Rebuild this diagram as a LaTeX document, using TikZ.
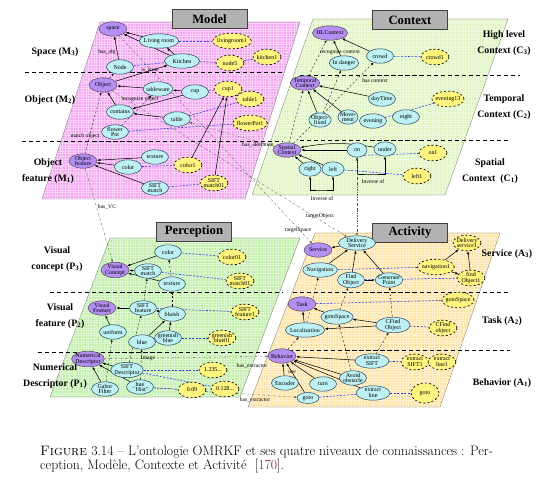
\documentclass[tikz,border=0pt]{standalone}
\usepackage{fontspec}
\newfontfamily\tms{Liberation Serif}
\usetikzlibrary{positioning, shapes.geometric, arrows.meta, calc, backgrounds}

\definecolor{modelpink}{HTML}{F5A3F0}
\definecolor{ctxgreen}{HTML}{DDF5BC}
\definecolor{pergreen}{HTML}{BDEFA6}
\definecolor{actorange}{HTML}{FFE1A0}
\definecolor{clspurple}{HTML}{B48EF2}
\definecolor{concyan}{HTML}{BDF1F4}
\definecolor{conline}{HTML}{23415E}
\definecolor{insyellow}{HTML}{FFF47E}
\definecolor{instblue}{HTML}{2B3BE8}
\definecolor{refred}{HTML}{8B1A1A}

\tikzset{
	tinytext/.style={font=\tms\fontsize{8.5}{8}\selectfont},
	clsnode/.style={ellipse, draw=black!75, line width=0.6pt, fill=clspurple, tinytext, align=center, inner xsep=-1.5pt, inner ysep=0pt, minimum width=1.4cm, minimum height=0.72cm},
	connode/.style={ellipse, draw=conline, line width=0.7pt, fill=concyan, tinytext, align=center, inner xsep=-1.5pt, inner ysep=0pt, minimum width=1.35cm, minimum height=0.72cm},
	insnode/.style={ellipse, draw=black, line width=0.9pt, dashed, fill=insyellow, tinytext, align=center, inner xsep=-1.5pt, inner ysep=0pt, minimum width=1.4cm, minimum height=0.78cm}
}
\tikzset{
	arr/.style={-{Latex[length=4.5pt,width=3.5pt]}, line width=0.75pt},
	inst/.style={instblue, densely dashed, line width=0.8pt},
	dep/.style={-{Latex[length=3.5pt,width=3pt]}, dashed, line width=0.5pt},
	xlink/.style={black!65, dash dot, line width=0.5pt, -{Latex[length=3.5pt,width=3pt]}},
	lvl/.style={dash pattern=on 6pt off 4pt, line width=1.2pt},
	edgetext/.style={font=\tms\fontsize{8}{8}\selectfont, inner sep=0.5pt},
	sidetext/.style={font=\tms\bfseries\fontsize{14}{23}\selectfont, align=center},
	titlebox/.style={draw=black!75, line width=0.8pt, fill=black!30, font=\tms\bfseries\fontsize{18}{18}\selectfont, minimum width=3.75cm, minimum height=0.95cm, inner sep=0pt}
}

\begin{document}
\begin{tikzpicture}[x=0.05cm, y=-0.05cm]
	\useasboundingbox (0,0) rectangle (559,502);

	% the four panels
	\begin{scope}[on background layer]
		\fill[modelpink] (100,22) -- (300,22) -- (245,199) -- (42,199) -- cycle;
		\fill[ctxgreen] (313,19) -- (508,19) -- (445,195) -- (252,195) -- cycle;
		\fill[pergreen] (110,238) -- (300,238) -- (240,397) -- (50,397) -- cycle;
		\fill[actorange] (315,233) -- (500,233) -- (440,407) -- (248,407) -- cycle;
		\begin{scope}
			\clip (100,22) -- (300,22) -- (245,199) -- (42,199) -- cycle;
			\draw[white, line width=0.2pt, opacity=0.5, step=0.13cm] (40,20) grid (305,200);
		\end{scope}
		\begin{scope}
			\clip (313,19) -- (508,19) -- (445,195) -- (252,195) -- cycle;
			\draw[white, line width=0.2pt, opacity=0.5, step=0.13cm] (250,17) grid (510,197);
		\end{scope}
		\begin{scope}
			\clip (110,238) -- (300,238) -- (240,397) -- (50,397) -- cycle;
			\draw[white, line width=0.2pt, opacity=0.5, step=0.13cm] (48,236) grid (302,399);
		\end{scope}
		\begin{scope}
			\clip (315,233) -- (500,233) -- (440,407) -- (248,407) -- cycle;
			\draw[white, line width=0.2pt, opacity=0.5, step=0.13cm] (246,231) grid (502,409);
		\end{scope}
		\draw[black!55, line width=0.4pt] (100,22) -- (300,22) -- (245,199) -- (42,199) -- cycle;
		\draw[black!55, line width=0.4pt] (313,19) -- (508,19) -- (445,195) -- (252,195) -- cycle;
		\draw[black!55, line width=0.4pt] (110,238) -- (300,238) -- (240,397) -- (50,397) -- cycle;
		\draw[black!55, line width=0.4pt] (315,233) -- (500,233) -- (440,407) -- (248,407) -- cycle;

		\draw[lvl] (25,72) -- (283,72);
		\draw[lvl] (22,141) -- (283,141);
		\draw[lvl] (300,75) -- (520,75);
		\draw[lvl] (300,140) -- (508,140);
		\draw[lvl] (50,292) -- (282,292);
		\draw[lvl] (293,292) -- (510,292);
		\draw[lvl] (38,352) -- (275,352);
		\draw[lvl] (275,350) -- (510,350);
	\end{scope}

	\node[titlebox] (tModel) at (209.5,19) {Model};
	\node[titlebox] (tContext) at (410,20) {Context};
	\node[titlebox] (tPerception) at (194,231.5) {Perception};
	\node[titlebox] (tActivity) at (410,232.5) {Activity};

	% level names
	\node[sidetext] (sM3) at (55,52) {Space (M\textsubscript{3})};
	\node[sidetext] (sM2) at (50,100) {Object (M\textsubscript{2})};
	\node[sidetext] (sM1) at (48,171) {Object\\feature (M\textsubscript{1})};
	\node[sidetext] (sC3) at (504,43) {High level\\Context (C\textsubscript{3})};
	\node[sidetext] (sC2) at (504,107) {Temporal\\Context (C\textsubscript{2})};
	\node[sidetext] (sC1) at (490,171) {Spatial\\Context\ \ (C\textsubscript{1})};
	\node[sidetext] (sP3) at (57,259) {Visual\\concept (P\textsubscript{3})};
	\node[sidetext] (sP2) at (60,316) {Visual\\feature (P\textsubscript{2})};
	\node[sidetext] (sP1) at (55,376) {Numerical\\Descriptor (P\textsubscript{1})};
	\node[sidetext] (sA3) at (507,254) {Service (A\textsubscript{3})};
	\node[sidetext] (sA2) at (502,321) {Task (A\textsubscript{2})};
	\node[sidetext] (sA1) at (502,383) {Behavior (A\textsubscript{1})};

	% Model
	\begin{scope}
		\node[clsnode] (space) at (113,29) {space};
		\node[connode, minimum width=1.8cm] (livroom) at (159,41) {Living room};
		\node[insnode, minimum width=1.7cm] (livroom1) at (232,41) {livingroom1};
		\node[connode] (nodeC) at (120,67) {Node};
		\node[connode, minimum width=1.75cm] (kitchen) at (182,61) {Kitchen};
		\node[insnode] (node5) at (230,63) {node5};
		\node[insnode] (kitchen1) at (267,57) {kitchen1};
		\node[clsnode] (object) at (103,85) {Object};
		\node[connode] (tableware) at (158,89) {tableware};
		\node[connode] (cup) at (195,92) {cup};
		\node[insnode] (cup1) at (228,89) {cup1};
		\node[insnode] (table1) at (250,99) {table1};
		\node[connode] (contains) at (120,112) {contains};
		\node[connode] (table) at (177,119) {table};
		\node[insnode] (flowerpot1) at (250,123) {flowerPot1};
		\node[connode] (flowerpot) at (115,132) {flower\\Pot};
		\node[clsnode] (objfeat) at (83,161) {Object\\feature};
		\node[connode] (texture) at (155,157) {texture};
		\node[connode] (color) at (128,167) {color};
		\node[insnode] (color1) at (188,165) {color1};
		\node[connode] (siftm) at (155,188) {SIFT\\match};
		\node[insnode] (siftm01) at (214,183) {SIFT\\match01};

		\node[edgetext] (lHasObj) at (107,52) {has\_obj};
		\node[edgetext] (lZone) at (150,70) {is\_zone};
		\node[edgetext] (lRecObj) at (140,99) {recognize object};
		\node[edgetext] (lMatchObj) at (85,136) {match object};
		\node[edgetext] (lHasVC) at (107,207) {has\_VC};
	\end{scope}

	% Context
	\begin{scope}
		\node[clsnode] (hlc) at (330,33) {HLContext};
		\node[connode] (crowd) at (380,56) {crowd};
		\node[insnode] (crowd1) at (435,57) {crowd1};
		\node[connode] (indanger) at (344,63) {In danger};
		\node[clsnode] (tempc) at (305,83) {Temporal\\Context};
		\node[connode] (daytime) at (382,99) {dayTime};
		\node[insnode] (evening13) at (448,99) {evening13};
		\node[connode, minimum width=1cm] (objfixed) at (320,120) {Object-\\fixed};
		\node[connode, minimum width=1cm] (movement) at (348,117) {Move-\\ment};
		\node[connode] (evening) at (373,121) {evening};
		\node[connode] (night) at (406,117) {night};
		\node[clsnode] (spac) at (287,150) {Spatial\\Context};
		\node[connode, minimum width=1cm] (on) at (357,150) {on};
		\node[connode, minimum width=1.1cm] (under) at (385,149) {under};
		\node[insnode] (on1) at (433,153) {on1};
		\node[connode, minimum width=1.1cm] (cright) at (310,169) {right};
		\node[connode, minimum width=1.1cm] (cleft) at (333,169) {left};
		\node[insnode] (left1) at (417,176) {left1};

		\node[edgetext] (lRecCtx) at (340,52) {recognize context};
		\node[edgetext] (lHasCtx) at (375,81) {has context};
		\node[edgetext] (lInvA) at (373,182) {Inverse of};
		\node[edgetext] (lInvB) at (322,199) {Inverse of};
		\node[edgetext] (lTgtObj) at (320,216) {targetObject};
		\node[edgetext] (lTgtSpace) at (298,230) {targetSpace};
		\node[edgetext] (lSRel) at (258,145) {has\_sRelation};
	\end{scope}

	% Perception
	\begin{scope}
		\node[connode] (colorp) at (168,252) {color};
		\node[insnode] (color01) at (232,257) {color01};
		\node[clsnode] (viscon) at (115,270) {Visual\\Concept};
		\node[connode] (siftmp) at (148,271) {SIFT\\match};
		\node[insnode] (siftm01p) at (240,281) {SIFT\\match01};
		\node[connode] (texturep) at (172,284) {texture};
		\node[clsnode] (visfeat) at (102,308) {Visual\\Feature};
		\node[connode] (siftf) at (143,308) {SIFT\\feature};
		\node[connode] (bluish) at (172,314) {bluish};
		\node[insnode] (siftf1) at (245,312) {SIFT\\feature1};
		\node[connode] (uniform) at (113,332) {uniform};
		\node[connode] (blue) at (142,342) {blue};
		\node[connode] (grblue) at (168,338) {greenish\\blue};
		\node[insnode] (grblue01) at (222,338) {greenish\\blue01};
		\node[clsnode] (numdesc) at (88,359) {Numerical\\Descriptor};
		\node[connode] (siftd) at (127,370) {SIFT\\Descriptor};
		\node[insnode] (v1235) at (213,370) {1.235...};
		\node[insnode] (v0128) at (225,389) {0.128...};
		\node[insnode] (v009) at (192,390) {0.09};
		\node[connode] (gabor) at (105,389) {Gabor\\Filter};
		\node[connode] (huehist) at (140,387) {hue\\``Hist''};

		\node[edgetext] (lImage) at (148,358) {Image};
		\node[edgetext] (lExtA) at (252,366) {has\_extractor};
		\node[edgetext] (lExtB) at (255,400) {has\_extractor};
	\end{scope}

	% Activity
	\begin{scope}
		\node[connode, minimum width=1.85cm] (delserv) at (357,243) {Delivery\\Service};
		\node[clsnode] (service) at (318,250) {Service};
		\node[insnode] (delserv1) at (467,243) {Delivery\\service1};
		\node[connode] (navig) at (320,270) {Navigation};
		\node[insnode] (navig1) at (436,267) {navigation1};
		\node[connode] (findobj) at (351,280) {Find\\Object};
		\node[connode] (genpt) at (389,280) {Generate\\Point};
		\node[insnode] (findobj1) at (471,278) {find\\Object1};
		\node[insnode] (gotosp1) at (458,300) {gotoSpace};
		\node[clsnode] (task) at (302,304) {Task};
		\node[connode] (gotosp) at (337,317) {gotoSpace};
		\node[connode] (local) at (305,330) {Localization};
		\node[connode, minimum width=1.7cm] (cfind) at (393,325) {CFind\\Object};
		\node[insnode] (cfind1) at (443,328) {CFind\\object};
		\node[clsnode] (behav) at (282,356) {Behavior};
		\node[connode, minimum width=1.7cm] (exsift) at (372,361) {extract\\SIFT};
		\node[insnode] (exsift1) at (415,362) {extract\\SIFT1};
		\node[insnode] (exline1) at (442,362) {extract\\line1};
		\node[connode] (avoid) at (353,378) {Avoid\\obstacle};
		\node[connode] (encoder) at (285,383) {Encoder};
		\node[connode] (turn) at (323,384) {turn};
		\node[connode, minimum width=1.7cm] (exline) at (373,393) {extract\\line};
		\node[insnode, minimum height=1cm] (goto1) at (425,393) {goto};
		\node[connode, minimum width=1.1cm, minimum height=0.55cm] (gotoc) at (308,398) {goto};

		\node[edgetext] (lUse) at (292,372) {use};
	\end{scope}

	% links
	\begin{scope}[on background layer]
		% model
		\draw[arr] (livroom) -- (space);
		\draw[arr] (kitchen) -- (space);
		\draw[arr] (nodeC) -- (space);
		\draw[arr] (kitchen) -- (livroom);
		\draw[arr] (object) -- (kitchen);
		\draw[arr] (tableware) -- (object);
		\draw[arr] (cup) -- (tableware);
		\draw[arr] (cup) -- (contains);
		\draw[arr] (table) -- (contains);
		\draw[arr] (contains) -- (object);
		\draw[arr] (texture) -- (objfeat);
		\draw[arr] (color) -- (objfeat);
		\draw[arr] (siftm) -- (objfeat);
		\draw[arr] (color1) -- (cup1);
		\draw[arr] (siftm01) -- (cup1);
		\draw[inst] (livroom) -- (livroom1);
		\draw[inst] (nodeC) -- (kitchen);
		\draw[inst] (kitchen) -- (node5);
		\draw[inst] (node5) -- (kitchen1);
		\draw[inst] (cup) -- (cup1);
		\draw[inst] (table) -- (table1);
		\draw[inst] (flowerpot) -- (flowerpot1);
		\draw[inst] (color) -- (color1);
		\draw[inst] (siftm) -- (siftm01);
		\draw[dep] (objfeat) -- (object);
		\draw[dep] (object) -- (nodeC);
		\draw[dep] (flowerpot) -- (tableware);

		% context
		\draw[arr] (crowd) -- (hlc);
		\draw[arr] (indanger) -- (hlc);
		\draw[arr] (daytime) -- (tempc);
		\draw[arr] (objfixed) -- (tempc);
		\draw[arr] (movement) -- (tempc);
		\draw[arr] (on) -- (spac);
		\draw[arr] (under) to[bend right=10] (spac);
		\draw[arr] (cright) -- (spac);
		\draw[arr] (cleft) -- (spac);
		\draw[inst] (crowd) -- (crowd1);
		\draw[inst] (evening) -- (evening13);
		\draw[inst] (on.south east) -- (on1);
		\draw[inst] (cleft) -- (left1);
		\draw[dep] (tempc) -- (hlc);
		\draw[dep] (spac) -- (tempc);
		\draw[dep] (spac) -- (crowd);
		\draw[dep] (objfixed) -- (indanger);
		\coordinate (invA) at (371,174);
		\coordinate (invB) at (321,190);
		\draw[{Latex[length=4pt,width=3.2pt]}-{Latex[length=4pt,width=3.2pt]}, line width=0.6pt] (on.south) |- (invA) -| (under.south);
		\draw[{Latex[length=4pt,width=3.2pt]}-{Latex[length=4pt,width=3.2pt]}, line width=0.6pt] (cright.south) |- (invB) -| (cleft.south);

		% perception
		\draw[arr] (colorp) -- (viscon);
		\draw[arr] (siftmp) -- (viscon);
		\draw[arr] (texturep) -- (viscon);
		\draw[arr] (siftf) -- (visfeat);
		\draw[arr] (bluish) -- (siftf);
		\draw[arr] (uniform) -- (visfeat);
		\draw[arr] (blue) -- (bluish);
		\draw[arr] (grblue) -- (bluish);
		\draw[arr] (siftd) -- (numdesc);
		\draw[arr] (gabor) -- (numdesc);
		\draw[arr] (huehist) -- (numdesc);
		\draw[inst] (colorp) -- (color01);
		\draw[inst] (siftmp) -- (siftm01p);
		\draw[inst] (siftf) -- (siftf1);
		\draw[inst] (grblue) -- (grblue01);
		\draw[inst] (siftd) -- (v1235);
		\draw[inst] (siftd) -- (v0128);
		\draw[inst] (huehist) -- (v009);
		\draw[dep] (siftd) -- (siftf);
		\draw[dep] (siftf) -- (siftmp);
		\draw[dep] (bluish) -- (texturep);
		\draw[dep] (texturep) -- (colorp);
		\draw[dep] (gabor) -- (uniform);
		\draw[dep] (huehist) -- (blue);

		% activity
		\draw[arr] (delserv) -- (service);
		\draw[arr] (navig) -- (delserv);
		\draw[arr] (findobj) -- (delserv);
		\draw[arr] (genpt) -- (delserv);
		\draw[arr] (findobj) -- (genpt);
		\draw[arr] (navig1) -- (delserv1);
		\draw[arr] (navig1) -- (findobj1);
		\draw[arr] (findobj1) -- (delserv1);
		\draw[arr] (gotosp) -- (task);
		\draw[arr] (local) -- (task);
		\draw[arr] (cfind) -- (gotosp);
		\draw[arr] (cfind) -- (local);
		\draw[arr] (exsift) -- (behav);
		\draw[arr] (avoid) -- (behav);
		\draw[arr] (turn) -- (behav);
		\draw[arr] (exline) -- (behav);
		\draw[arr] (encoder) -- (behav);
		\draw[arr] (gotoc) -- (behav);
		\draw[inst] (navig) -- (navig1);
		\draw[inst] (findobj) -- (findobj1);
		\draw[inst] (task) -- (gotosp1);
		\draw[inst] (cfind) -- (cfind1);
		\draw[inst] (exsift) -- (exsift1);
		\draw[inst] (exline) -- (goto1);
		\draw[inst] (gotoc) -- (exline);
		\draw[dep] (local) -- (navig);
		\draw[dep] (cfind) -- (genpt);
		\draw[dep] (gotosp) -- (findobj);
		\draw[dep] (exsift) -- (cfind);
		\draw[dep] (behav) -- (local);
		\draw[dep] (avoid) -- (gotosp);

		% between the panels
		\draw[xlink] (objfeat) -- (viscon);
		\draw[xlink] (object) -- (delserv);
		\draw[xlink] (space) -- (service);
		\draw[xlink] (spac) -- (table);
		\draw[xlink] (on) -- (delserv);
		\draw[xlink] (numdesc) -- (behav);
		\draw[xlink] (huehist) -- (gotoc);
	\end{scope}

	\node[anchor=north west, align=left, inner sep=0pt, font=\fontsize{19.5}{20}\selectfont] (caption) at (40,446)
		{\textsc{Figure} 3.14 -- L'ontologie OMRKF et ses quatre niveaux de connaissances : Per-\\
		ception, Modèle, Contexte et Activité \ [\textcolor{refred}{170}].};
\end{tikzpicture}
\end{document}
